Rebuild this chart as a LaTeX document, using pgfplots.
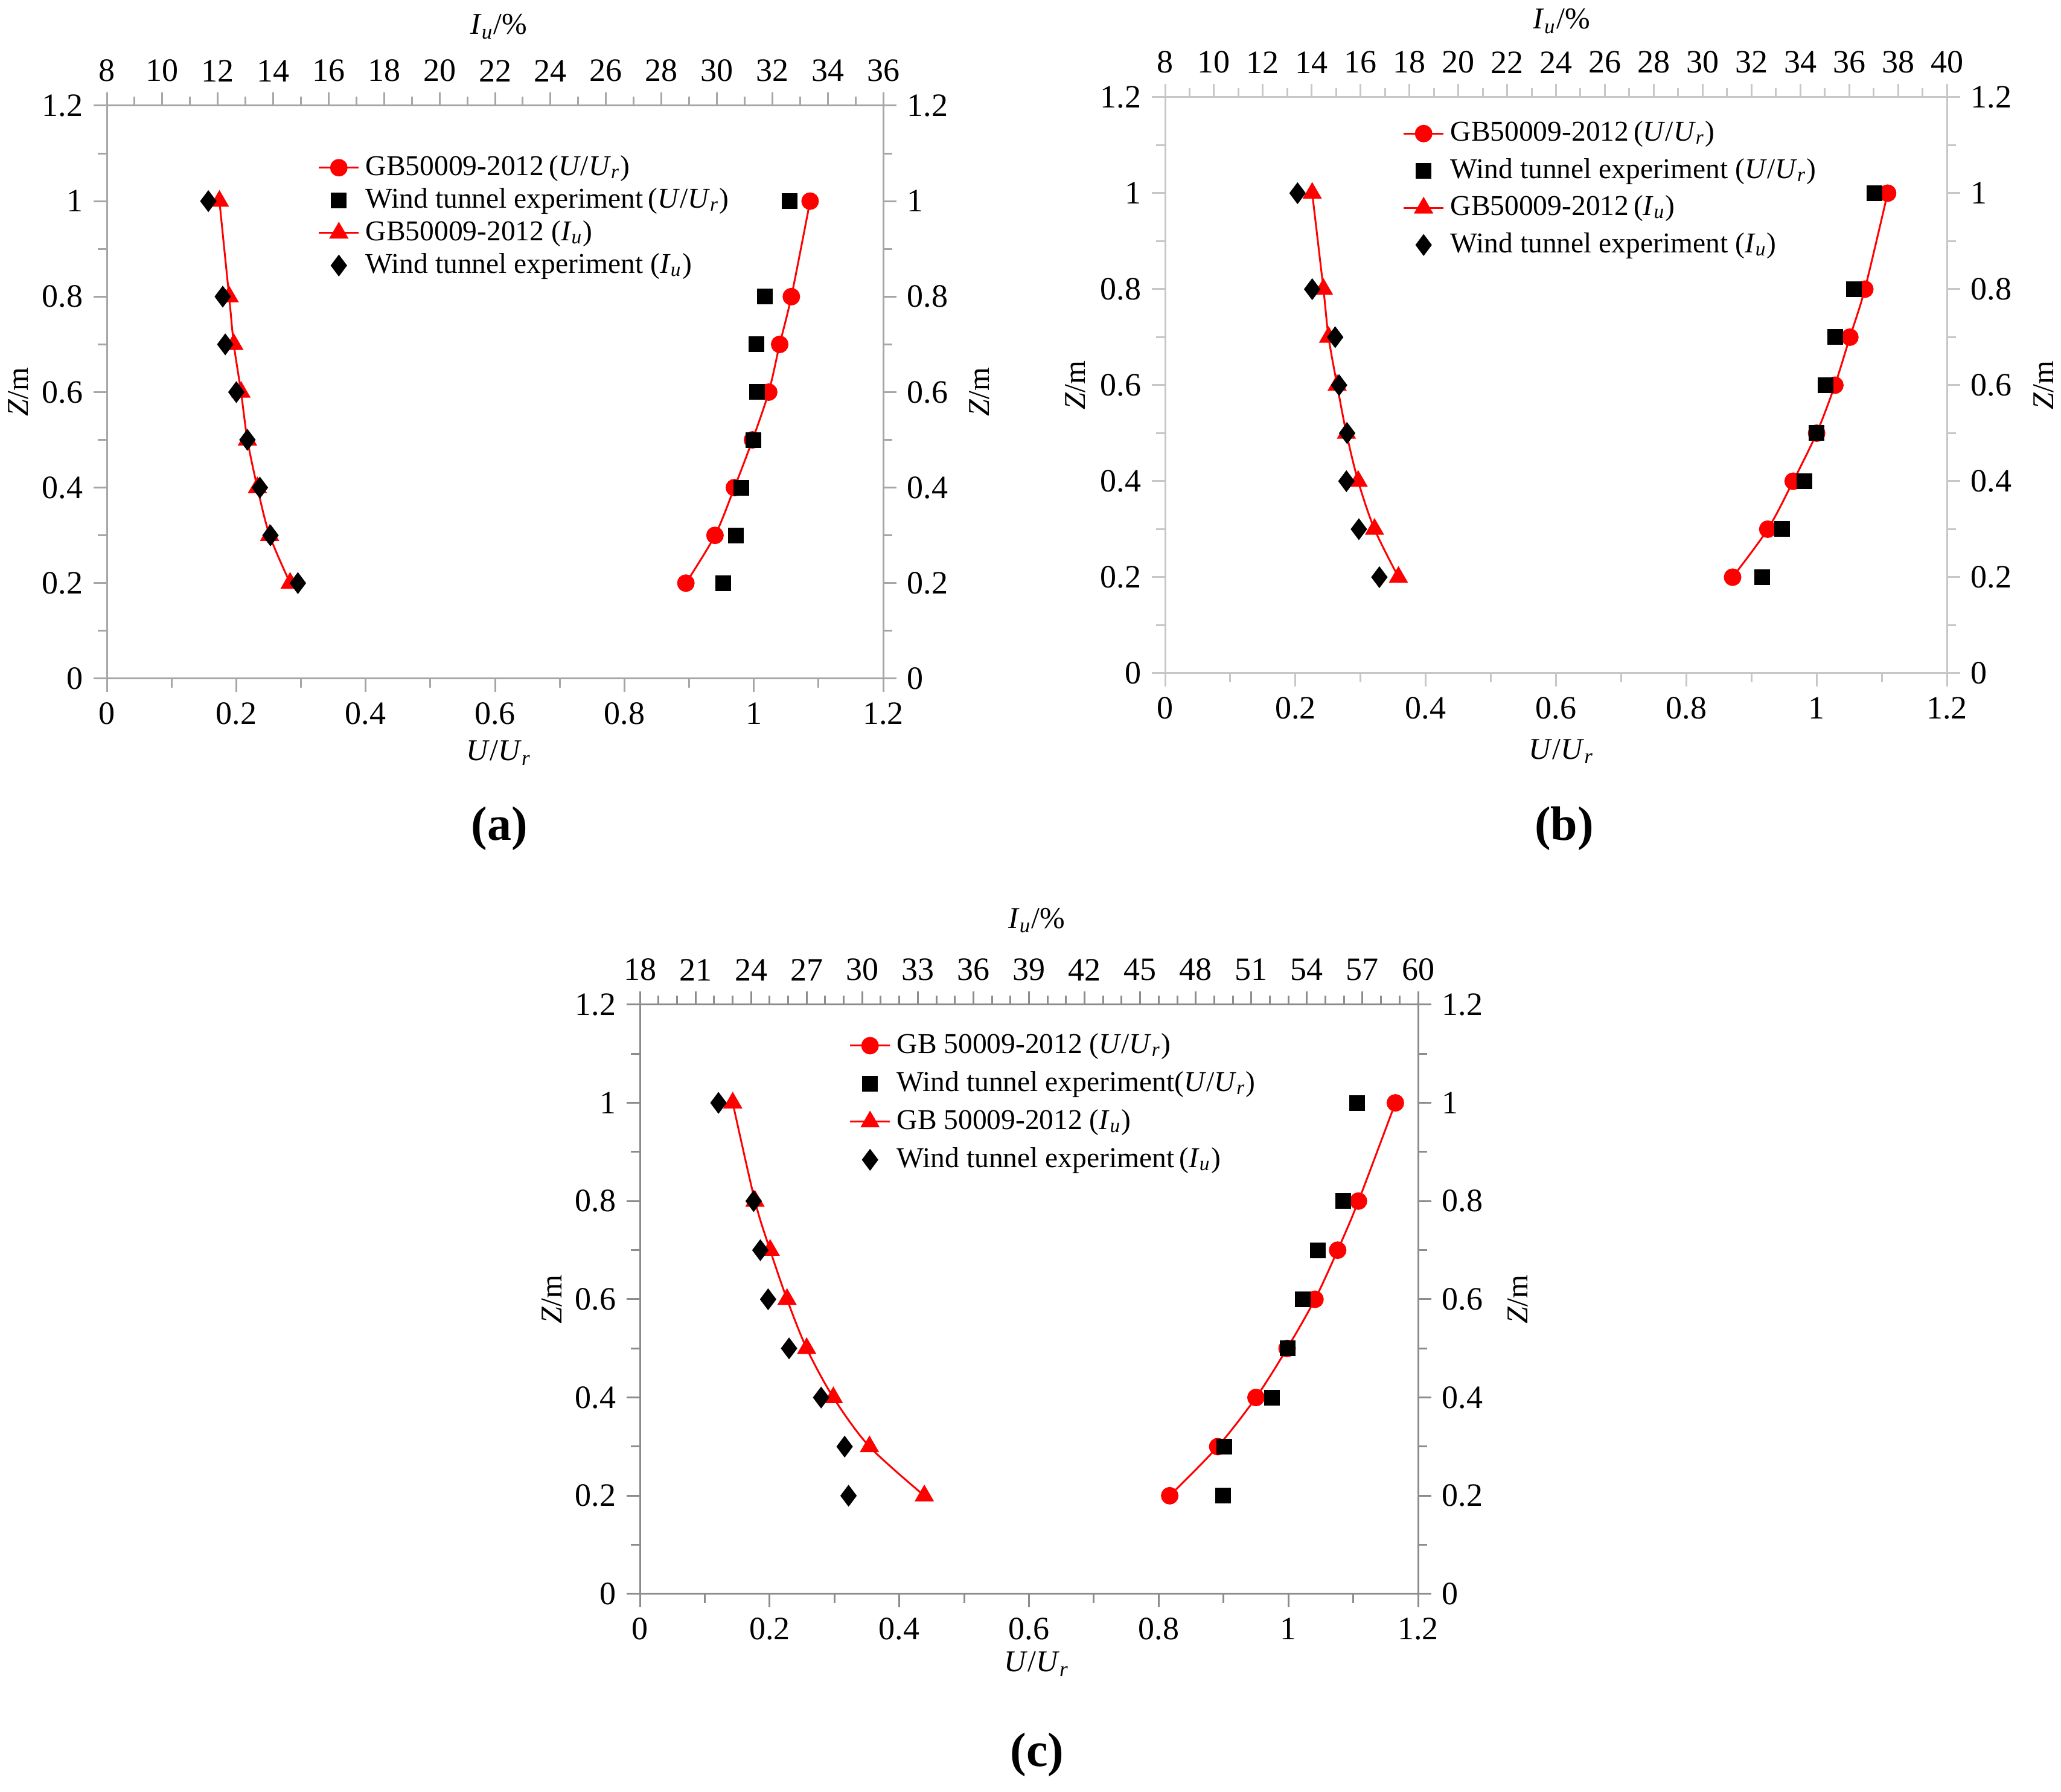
\documentclass[border=0pt]{standalone}
\usepackage{fontspec}
\setmainfont{Liberation Serif}
\usepackage{pgfplots}
\pgfplotsset{compat=1.18}
\newcommand{\ticksize}{\fontsize{10.8pt}{12pt}\selectfont}
\newcommand{\labsize}{\fontsize{10pt}{12pt}\selectfont}
\newcommand{\legsize}{\fontsize{9.5pt}{11pt}\selectfont}
\newcommand{\UUr}{(\textit{U}/\textit{U}\textsubscript{\textit{r}})}
\newcommand{\Iu}{(\textit{I}\textsubscript{\textit{u}})}
\pgfplotsset{
  base/.style={scale only axis, ymin=0, ymax=1.2,
    ytick={0,0.2,0.4,0.6,0.8,1,1.2}, minor y tick num=1,
    tick align=outside, major tick length=4.4pt, minor tick length=3pt,
    axis line style={line width=0.6pt, draw=#1},
    every tick/.style={line width=0.6pt, draw=#1},
    tick label style={font=\ticksize, text=black},
    label style={font=\labsize},
    /pgf/number format/assume math mode=true, clip=false,
    legend image code/.code={\draw[mark repeat=2,mark phase=2,##1] plot coordinates {(0pt,0pt) (6.6pt,0pt) (13.2pt,0pt)};}},
  lower/.style={base=#1, xmin=0, xmax=1.2, xtick={0,0.2,0.4,0.6,0.8,1,1.2}, minor x tick num=1,
    xtick pos=left, ytick pos=left, xticklabel pos=left, yticklabel pos=left,
    xlabel={\textit{U}/\textit{U}\textsubscript{\textit{r}}}, ylabel={\textit{Z}/m}},
  upper/.style={base=#1, xtick pos=right, ytick pos=right, xticklabel pos=right, yticklabel pos=right,
    xlabel={\textit{I}\textsubscript{\textit{u}}/\%}, ylabel={\textit{Z}/m}},
  gbu/.style={red, line width=0.6pt, smooth, mark=*, mark size=2.6pt, mark options={fill=red, draw=red, solid}},
  wtu/.style={only marks, black, mark=square*, mark size=2.4pt, mark options={fill=black}},
  gbi/.style={red, line width=0.6pt, smooth, mark=triangle*, mark size=3.1pt, mark options={fill=red, draw=red, solid}},
  wti/.style={only marks, black, mark=diamond*, mark size=3.3pt, mark options={fill=black}},
  leg/.style n args={3}{legend style={at={(#1,#2)}, anchor=north west, draw=none, fill=none,
    inner sep=0pt, outer sep=0pt, font=\legsize, row sep=#3, legend cell align=left,
    nodes={inner xsep=2pt, inner ysep=0pt, text height=7.5pt, text depth=2.5pt}}},
}
\begin{document}
\begin{tikzpicture}
\useasboundingbox (0,0) rectangle (682.8pt,593.6pt);
% ---------------- (a)
\begin{axis}[lower=black!35, at={(35.4pt,368.8pt)}, anchor=south west, width=257.2pt, height=189.8pt,
  xlabel style={at={(axis description cs:0.505,-0.1296)}, anchor=center},
  ylabel style={at={(axis description cs:-0.1143,0.5)}, anchor=center}]
\addplot[gbu] coordinates {(0.895,0.2) (0.940,0.3) (0.970,0.4) (0.998,0.5) (1.023,0.6) (1.040,0.7) (1.058,0.8) (1.087,1.0)};
\addplot[wtu] coordinates {(0.953,0.2) (0.972,0.3) (0.981,0.4) (0.999,0.5) (1.005,0.6) (1.004,0.7) (1.017,0.8) (1.055,1.0)};
\end{axis}
\begin{axis}[upper=black!35, at={(35.4pt,368.8pt)}, anchor=south west, width=257.2pt, height=189.8pt,
  xmin=8, xmax=36, xtick={8,10,...,36}, minor x tick num=1,
  xlabel style={at={(axis description cs:0.505,1.138)}, anchor=center},
  ylabel style={at={(axis description cs:1.1236,0.5)}, anchor=center},
  leg={0.272}{0.918}{0.8pt}]
\addlegendimage{gbu}\addlegendentry{GB50009-2012\,\UUr}
\addlegendimage{wtu}\addlegendentry{Wind tunnel experiment\,\UUr}
\addplot[gbi] coordinates {(14.61,0.2) (13.87,0.3) (13.43,0.4) (13.07,0.5) (12.84,0.6) (12.58,0.7) (12.41,0.8) (12.06,1.0)};
\addlegendentry{GB50009-2012 \Iu}
\addplot[wti] coordinates {(14.89,0.2) (13.90,0.3) (13.52,0.4) (13.07,0.5) (12.67,0.6) (12.27,0.7) (12.18,0.8) (11.66,1.0)};
\addlegendentry{Wind tunnel experiment \Iu}
\end{axis}
% ---------------- (b)
\begin{axis}[lower=black!22, at={(386pt,370.6pt)}, anchor=south west, width=259pt, height=190.8pt,
  xlabel style={at={(axis description cs:0.507,-0.136)}, anchor=center},
  ylabel style={at={(axis description cs:-0.115,0.5)}, anchor=center}]
\addplot[gbu] coordinates {(0.871,0.2) (0.925,0.3) (0.964,0.4) (1.000,0.5) (1.028,0.6) (1.051,0.7) (1.074,0.8) (1.109,1.0)};
\addplot[wtu] coordinates {(0.916,0.2) (0.947,0.3) (0.981,0.4) (1.000,0.5) (1.014,0.6) (1.029,0.7) (1.057,0.8) (1.089,1.0)};
\end{axis}
\begin{axis}[upper=black!22, at={(386pt,370.6pt)}, anchor=south west, width=259pt, height=190.8pt,
  xmin=8, xmax=40, xtick={8,10,...,40}, minor x tick num=1,
  xlabel style={at={(axis description cs:0.507,1.132)}, anchor=center},
  ylabel style={at={(axis description cs:1.1236,0.5)}, anchor=center},
  leg={0.304}{0.963}{2.3pt}]
\addlegendimage{gbu}\addlegendentry{GB50009-2012\,\UUr}
\addlegendimage{wtu}\addlegendentry{Wind tunnel experiment \UUr}
\addplot[gbi] coordinates {(17.55,0.2) (16.57,0.3) (15.90,0.4) (15.42,0.5) (15.04,0.6) (14.69,0.7) (14.48,0.8) (14.02,1.0)};
\addlegendentry{GB50009-2012\,\Iu}
\addplot[wti] coordinates {(16.77,0.2) (15.93,0.3) (15.42,0.4) (15.45,0.5) (15.12,0.6) (14.96,0.7) (14.02,0.8) (13.42,1.0)};
\addlegendentry{Wind tunnel experiment \Iu}
\end{axis}
% ---------------- (c)
\begin{axis}[lower=black!45, at={(212pt,65.6pt)}, anchor=south west, width=257.8pt, height=195.2pt,
  xlabel style={at={(axis description cs:0.510,-0.119)}, anchor=center},
  ylabel style={at={(axis description cs:-0.113,0.5)}, anchor=center}]
\addplot[gbu] coordinates {(0.817,0.2) (0.891,0.3) (0.950,0.4) (0.998,0.5) (1.041,0.6) (1.076,0.7) (1.108,0.8) (1.165,1.0)};
\addplot[wtu] coordinates {(0.899,0.2) (0.901,0.3) (0.975,0.4) (0.999,0.5) (1.022,0.6) (1.045,0.7) (1.085,0.8) (1.106,1.0)};
\end{axis}
\begin{axis}[upper=black!45, at={(212pt,65.6pt)}, anchor=south west, width=257.8pt, height=195.2pt,
  xmin=18, xmax=60, xtick={18,21,...,60}, minor x tick num=2,
  xlabel style={at={(axis description cs:0.510,1.143)}, anchor=center},
  ylabel style={at={(axis description cs:1.128,0.5)}, anchor=center},
  leg={0.269}{0.956}{2.6pt}]
\addlegendimage{gbu}\addlegendentry{GB 50009-2012 \UUr}
\addlegendimage{wtu}\addlegendentry{Wind tunnel experiment\UUr}
\addplot[gbi] coordinates {(33.35,0.2) (30.39,0.3) (28.44,0.4) (27.00,0.5) (25.94,0.6) (25.03,0.7) (24.21,0.8) (23.01,1.0)};
\addlegendentry{GB 50009-2012 \Iu}
\addplot[wti] coordinates {(29.26,0.2) (29.05,0.3) (27.78,0.4) (26.05,0.5) (24.92,0.6) (24.50,0.7) (24.14,0.8) (22.24,1.0)};
\addlegendentry{Wind tunnel experiment\,\Iu}
\end{axis}
% captions
\node[font=\fontsize{16pt}{18pt}\selectfont\bfseries] at (165.4pt,319.2pt) {(a)};
\node[font=\fontsize{16pt}{18pt}\selectfont\bfseries] at (518.2pt,319.2pt) {(b)};
\node[font=\fontsize{16pt}{18pt}\selectfont\bfseries] at (343.6pt,12.4pt) {(c)};
\end{tikzpicture}
\end{document}
